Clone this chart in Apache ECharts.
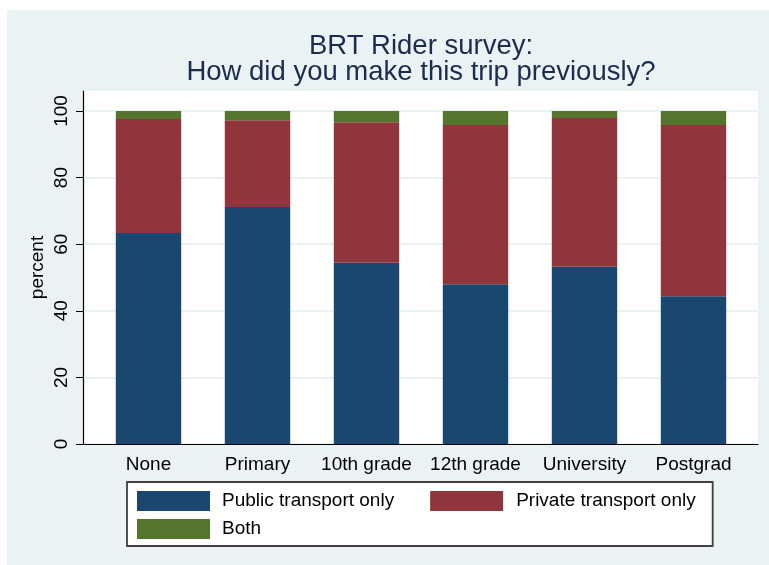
<!DOCTYPE html>
<html>
<head>
<meta charset="utf-8">
<script src="https://cdn.jsdelivr.net/npm/echarts@6/dist/echarts.min.js"></script>
<style>
  html, body { margin: 0; padding: 0; background: #ffffff; }
  #chart { width: 769px; height: 565px; }
</style>
</head>
<body>
<div id="chart"></div>
<script>
// 教育程度分类
const categories = ['None', 'Primary', '10th grade', '12th grade', 'University', 'Postgrad'];

// 各类出行方式占比 (percent)
const publicOnly = [63.4, 71.2, 54.4, 48.0, 53.2, 44.4];
const privateOnly = [34.2, 26.0, 42.2, 47.8, 44.7, 51.4];
const both = [2.4, 2.8, 3.4, 4.2, 2.1, 4.2];

const yTicks = [0, 20, 40, 60, 80, 100];

const FONT = "'Liberation Sans', Arial, sans-serif";

const chart = echarts.init(document.getElementById('chart'));

const option = {
    animation: false,
    backgroundColor: '#ffffff',
    textStyle: { fontFamily: FONT },
    // Stata 风格的浅蓝色外框背景
    graphic: [{
        type: 'rect',
        z: -10,
        shape: { x: 7, y: 10, width: 762, height: 555 },
        style: { fill: '#EAF2F3' }
    }],
    title: {
        text: 'BRT Rider survey:\nHow did you make this trip previously?',
        left: 421,
        top: 33,
        padding: 0,
        textAlign: 'center',
        textStyle: {
            fontFamily: FONT,
            fontSize: 27.5,
            fontWeight: 'normal',
            lineHeight: 26,
            color: '#1C2B50'
        }
    },
    legend: {
        left: 127,
        top: 482,
        width: 590,
        padding: [5, 0, 3, 10],
        backgroundColor: '#ffffff',
        borderColor: '#404040',
        borderWidth: 1.8,
        borderRadius: 0,
        itemWidth: 73,
        itemHeight: 20,
        itemGap: 0,
        icon: 'rect',
        textStyle: { fontFamily: FONT, fontSize: 19, lineHeight: 28, color: '#000' },
        data: [
            { name: 'Public transport only', textStyle: { padding: [0, 36, 0, 7] } },
            { name: 'Private transport only', textStyle: { padding: [0, 17, 0, 8] } },
            { name: 'Both', textStyle: { padding: [0, 0, 0, 7] } }
        ]
    },
    grid: [
        // 柱状图所在网格
        { left: 94, right: 21, top: 111, bottom: 121 },
        // 白色绘图区和坐标轴
        {
            left: 83, right: 11, top: 91, bottom: 121,
            show: true, backgroundColor: '#ffffff', borderWidth: 0, z: -1
        }
    ],
    xAxis: [
        {
            type: 'category',
            gridIndex: 0,
            data: categories,
            axisLine: { show: false },
            axisTick: { show: false },
            axisLabel: { margin: 11, fontSize: 19, color: '#000', fontFamily: FONT, interval: 0 }
        },
        {
            type: 'value',
            gridIndex: 1,
            min: 0,
            max: 1,
            axisLine: { show: true, lineStyle: { color: '#000', width: 1.2 } },
            axisTick: { show: false },
            axisLabel: { show: false },
            splitLine: { show: false }
        }
    ],
    yAxis: [
        { type: 'value', gridIndex: 0, min: 0, max: 100, show: false },
        {
            type: 'value',
            gridIndex: 1,
            min: 0,
            max: 106,
            interval: 20,
            name: 'percent',
            nameLocation: 'middle',
            nameGap: 36,
            nameMoveOverlap: false,
            nameTextStyle: { fontSize: 19, color: '#000', fontFamily: FONT },
            axisLine: { show: true, lineStyle: { color: '#000', width: 1.2 } },
            axisTick: { show: true, length: 7, customValues: yTicks, lineStyle: { color: '#000' } },
            axisLabel: {
                customValues: yTicks,
                rotate: 90,
                margin: 12,
                fontSize: 19,
                color: '#000',
                fontFamily: FONT
            },
            splitLine: { show: true, lineStyle: { color: '#EAF2F3', width: 2 } }
        }
    ],
    series: [
        {
            name: 'Public transport only',
            type: 'bar',
            stack: 'total',
            barWidth: '60%',
            itemStyle: { color: '#1A476F' },
            data: publicOnly
        },
        {
            name: 'Private transport only',
            type: 'bar',
            stack: 'total',
            barWidth: '60%',
            itemStyle: { color: '#90353B' },
            data: privateOnly
        },
        {
            name: 'Both',
            type: 'bar',
            stack: 'total',
            barWidth: '60%',
            itemStyle: { color: '#55752F' },
            data: both
        }
    ]
};

chart.setOption(option);
</script>
</body>
</html>
